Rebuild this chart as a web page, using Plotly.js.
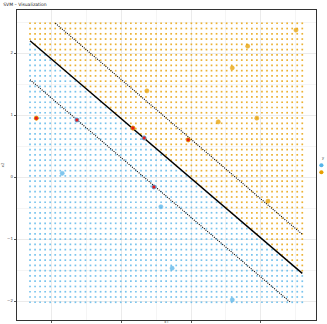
<!DOCTYPE html>
<html><head><meta charset="utf-8">
<script src="https://cdn.plot.ly/plotly-3.0.1.min.js"></script>
<style>html,body{margin:0;padding:0;background:#fff}#chart{width:327px;height:324px}</style>
</head><body><div id="chart"></div>
<script>
// prediction grid (regular lattice)
const gridXStart = -1.30, gridXEnd = 2.59, gridXCount = 55;
const gridYStart = -2.02, gridYEnd = 2.48, gridYCount = 54;
// decision boundary: y = intercept + slope * x
const boundarySlope = -0.965;
const boundaryIntercept = 0.945;
const marginOffset = 0.63;
// training points
const pointX = [2.50, 1.81, 1.59, 0.37, 1.39, 1.94, 2.10, 0.96, -1.21, -0.63, 0.17, 0.33, 0.47, -0.84, 0.57, 0.73, 1.59];
const pointY = [2.37, 2.11, 1.76, 1.39, 0.89, 0.95, -0.39, 0.60, 0.95, 0.92, 0.79, 0.63, -0.16, 0.06, -0.48, -1.47, -1.98];
const pointClass = ['1','1','1','1','1','1','1','1','1','-1','1','-1','-1','-1','-1','-1','-1'];
const supportVector = [0,0,0,0,0,0,0,1,1,1,1,1,1,0,0,0,0];
const classNames = ['-1', '1'];
const classColors = {'-1': '#56B4E9', '1': '#E69F00'};
const xTicks = [-1, 0, 1, 2];
const yTicks = [-2, -1, 0, 1, 2];

const gx = [], gy = [], gc = [];
for (let i = 0; i < gridXCount; i++) {
  const x = gridXStart + (gridXEnd - gridXStart) * i / (gridXCount - 1);
  for (let j = 0; j < gridYCount; j++) {
    const y = gridYStart + (gridYEnd - gridYStart) * j / (gridYCount - 1);
    gx.push(x); gy.push(y);
    gc.push(y > boundaryIntercept + boundarySlope * x ? classColors['1'] : classColors['-1']);
  }
}
const traces = [{
  type: 'scatter', mode: 'markers', x: gx, y: gy, showlegend: false, hoverinfo: 'skip',
  marker: {size: 1.7, color: gc, opacity: 0.8, symbol: 'square', line: {width: 0}}
}];

function clipLine(b) {
  const m = boundarySlope;
  let x0 = gridXStart, x1 = gridXEnd;
  const xAtTop = (gridYEnd - b) / m, xAtBottom = (gridYStart - b) / m;
  x0 = Math.max(x0, Math.min(xAtTop, xAtBottom));
  x1 = Math.min(x1, Math.max(xAtTop, xAtBottom));
  return {x: [x0, x1], y: [b + m * x0, b + m * x1]};
}
const lines = [
  {b: boundaryIntercept, dash: 'solid', w: 1.4},
  {b: boundaryIntercept + marginOffset, dash: '1px,1.2px', w: 1.1},
  {b: boundaryIntercept - marginOffset, dash: '1px,1.2px', w: 1.1}
];
lines.forEach(l => {
  const c = clipLine(l.b);
  traces.push({type: 'scatter', mode: 'lines', x: c.x, y: c.y, showlegend: false, hoverinfo: 'skip',
    line: {color: '#000', width: l.w, dash: l.dash}});
});

classNames.forEach(cn => {
  const xs = [], ys = [];
  pointX.forEach((v, i) => { if (pointClass[i] === cn) { xs.push(v); ys.push(pointY[i]); } });
  traces.push({type: 'scatter', mode: 'markers', x: xs, y: ys, name: cn, showlegend: false,
    marker: {size: 4.2, color: classColors[cn], opacity: 0.75, line: {color: classColors[cn], width: 0.6}}});
});
const svx = [], svy = [], svc = [];
pointX.forEach((v, i) => { if (supportVector[i]) { svx.push(v); svy.push(pointY[i]); svc.push(classColors[pointClass[i]]); } });
traces.push({type: 'scatter', mode: 'markers', x: svx, y: svy, showlegend: false,
  marker: {size: 4, color: '#E41A1C', line: {color: svc, width: 0.6}}});

const axisCommon = {
  showline: true, mirror: true, linecolor: '#333333', linewidth: 1.2,
  ticks: 'outside', ticklen: 2, tickwidth: 0.8, tickcolor: '#333333',
  tickfont: {size: 4, color: '#4d4d4d', family: 'DejaVu Sans'},
  showgrid: true, gridcolor: '#ebebeb', gridwidth: 1, zeroline: false,
  minor: {dtick: 0.5, showgrid: true, gridcolor: '#f3f3f3', gridwidth: 0.8}
};
const layout = {
  width: 327, height: 324,
  margin: {l: 17, r: 11, t: 10, b: 4},
  paper_bgcolor: '#fff', plot_bgcolor: '#fff',
  title: {text: 'SVM – Visualization', x: 0.01, xanchor: 'left', xref: 'container',
          y: 0.985, yanchor: 'middle', yref: 'container',
          font: {size: 4.5, color: '#222', family: 'DejaVu Sans'}},
  xaxis: Object.assign({}, axisCommon, {range: [-1.486, 2.786], tickvals: xTicks,
          title: {text: 'x1', font: {size: 4, color: '#333'}, standoff: 2}}),
  yaxis: Object.assign({}, axisCommon, {range: [-2.306, 2.694], tickvals: yTicks,
          title: {text: 'x2', font: {size: 4, color: '#333'}, standoff: 3}}),
  showlegend: false,
  annotations: [{xref: 'paper', yref: 'paper', x: 1.013, y: 0.523, text: 'y', showarrow: false,
    xanchor: 'left', yanchor: 'middle', font: {size: 4, color: '#333'}}],
  shapes: [
    {type: 'circle', xref: 'paper', yref: 'paper', x0: 1.011, x1: 1.025, y0: 0.493, y1: 0.506,
     fillcolor: classColors['-1'], line: {width: 0}},
    {type: 'circle', xref: 'paper', yref: 'paper', x0: 1.011, x1: 1.025, y0: 0.470, y1: 0.483,
     fillcolor: classColors['1'], line: {width: 0}}
  ]
};
Plotly.newPlot('chart', traces, layout, {displayModeBar: false, staticPlot: true});
</script>
</body></html>
